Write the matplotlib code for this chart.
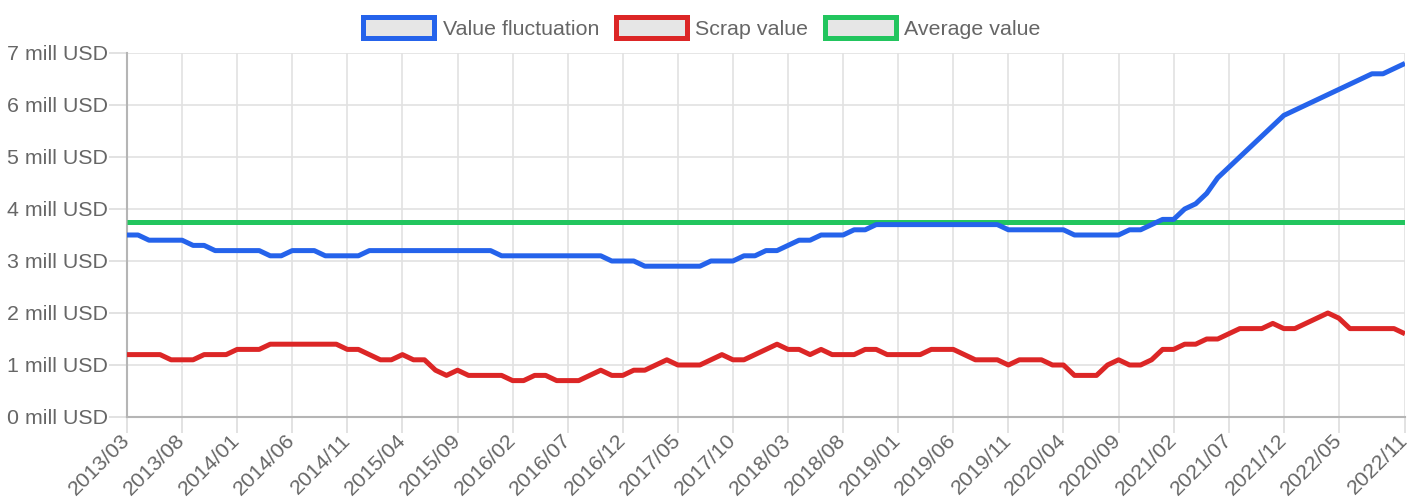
import matplotlib
matplotlib.use("Agg")
import matplotlib.pyplot as plt
from matplotlib.patches import Patch
import pandas as pd

# monthly labels 2013/03 .. 2022/11
months = pd.date_range("2013-03-01", "2022-11-01", freq="MS").strftime("%Y/%m").tolist()

value_fluctuation = [
    3.5, 3.5, 3.4, 3.4, 3.4, 3.4, 3.3, 3.3, 3.2, 3.2,
    3.2, 3.2, 3.2, 3.1, 3.1, 3.2, 3.2, 3.2, 3.1, 3.1,
    3.1, 3.1, 3.2, 3.2, 3.2, 3.2, 3.2, 3.2, 3.2, 3.2,
    3.2, 3.2, 3.2, 3.2, 3.1, 3.1, 3.1, 3.1, 3.1, 3.1,
    3.1, 3.1, 3.1, 3.1, 3.0, 3.0, 3.0, 2.9, 2.9, 2.9,
    2.9, 2.9, 2.9, 3.0, 3.0, 3.0, 3.1, 3.1, 3.2, 3.2,
    3.3, 3.4, 3.4, 3.5, 3.5, 3.5, 3.6, 3.6, 3.7, 3.7,
    3.7, 3.7, 3.7, 3.7, 3.7, 3.7, 3.7, 3.7, 3.7, 3.7,
    3.6, 3.6, 3.6, 3.6, 3.6, 3.6, 3.5, 3.5, 3.5, 3.5,
    3.5, 3.6, 3.6, 3.7, 3.8, 3.8, 4.0, 4.1, 4.3, 4.6,
    4.8, 5.0, 5.2, 5.4, 5.6, 5.8, 5.9, 6.0, 6.1, 6.2,
    6.3, 6.4, 6.5, 6.6, 6.6, 6.7, 6.8,
]

scrap_value = [
    1.2, 1.2, 1.2, 1.2, 1.1, 1.1, 1.1, 1.2, 1.2, 1.2,
    1.3, 1.3, 1.3, 1.4, 1.4, 1.4, 1.4, 1.4, 1.4, 1.4,
    1.3, 1.3, 1.2, 1.1, 1.1, 1.2, 1.1, 1.1, 0.9, 0.8,
    0.9, 0.8, 0.8, 0.8, 0.8, 0.7, 0.7, 0.8, 0.8, 0.7,
    0.7, 0.7, 0.8, 0.9, 0.8, 0.8, 0.9, 0.9, 1.0, 1.1,
    1.0, 1.0, 1.0, 1.1, 1.2, 1.1, 1.1, 1.2, 1.3, 1.4,
    1.3, 1.3, 1.2, 1.3, 1.2, 1.2, 1.2, 1.3, 1.3, 1.2,
    1.2, 1.2, 1.2, 1.3, 1.3, 1.3, 1.2, 1.1, 1.1, 1.1,
    1.0, 1.1, 1.1, 1.1, 1.0, 1.0, 0.8, 0.8, 0.8, 1.0,
    1.1, 1.0, 1.0, 1.1, 1.3, 1.3, 1.4, 1.4, 1.5, 1.5,
    1.6, 1.7, 1.7, 1.7, 1.8, 1.7, 1.7, 1.8, 1.9, 2.0,
    1.9, 1.7, 1.7, 1.7, 1.7, 1.7, 1.6,
]

average_value = 3.75

series_names = ["Value fluctuation", "Scrap value", "Average value"]
colors = ["#2563eb", "#dc2626", "#22c55e"]

plt.rcParams["font.family"] = ["Liberation Sans", "DejaVu Sans"]
text_color = "#666666"
fs = 15.4

fig = plt.figure(figsize=(14.1, 5.0), dpi=100)
ax = fig.add_axes([127 / 1410, 1 - 417 / 500, (1405 - 127) / 1410, (417 - 53) / 500])

x = list(range(len(months)))
ax.plot(x, [average_value] * len(x), color=colors[2], lw=3.6, zorder=3,
        solid_capstyle="butt")
ax.plot(x, scrap_value, color=colors[1], lw=3.6, zorder=4,
        solid_joinstyle="round", solid_capstyle="butt")
ax.plot(x, value_fluctuation, color=colors[0], lw=3.6, zorder=5,
        solid_joinstyle="round", solid_capstyle="butt")

ax.set_xlim(0, len(months) - 1)
ax.set_ylim(0, 7)

# every 5th month plus the last one
tick_idx = list(range(0, len(months) - 5, 5)) + [len(months) - 1]
ax.set_xticks(tick_idx)
ax.set_xticklabels([months[i] for i in tick_idx], rotation=45, ha="right",
                   va="center", rotation_mode="anchor")
ax.set_yticks(range(0, 8))
ax.set_yticklabels([f"{v} mill USD" for v in range(0, 8)])

ax.tick_params(axis="both", colors="#dddddd", labelcolor=text_color,
               labelsize=fs, width=1.2)
ax.tick_params(axis="y", length=13, pad=1)
ax.tick_params(axis="x", length=11.5, pad=3)

ax.grid(True, color="#e2e2e2", lw=1.2)
ax.set_axisbelow(True)
for s in ["top", "right"]:
    ax.spines[s].set_visible(False)
for s in ["left", "bottom"]:
    ax.spines[s].set_color("#b5b5b5")
    ax.spines[s].set_linewidth(1.5)

handles = [Patch(facecolor="#e6e6e6", edgecolor=c, linewidth=3.6) for c in colors]
fig.legend(handles, series_names, loc="upper center", bbox_to_anchor=(0.498, 1.0),
           ncol=3, frameon=False, fontsize=fs, labelcolor=text_color,
           handlelength=3.3, handleheight=1.1, handletextpad=0.4,
           columnspacing=0.8, borderpad=0.3)

fig.savefig("out.png", dpi=100)
